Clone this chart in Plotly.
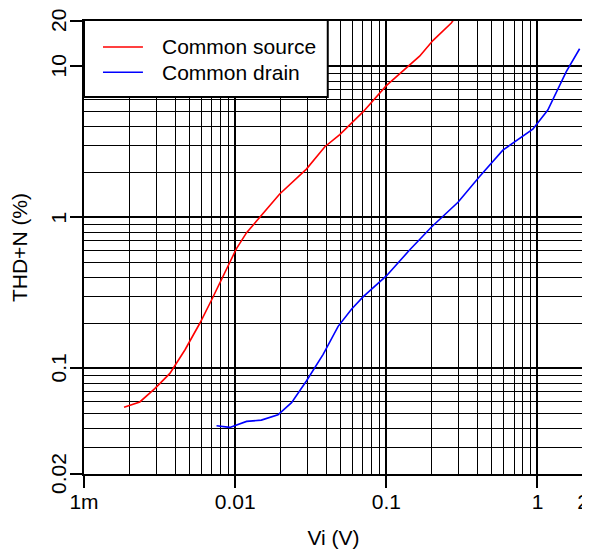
import math
import plotly.graph_objects as go

# Data
cs_vi = [0.00184, 0.00234, 0.00294, 0.0037, 0.00466, 0.00585, 0.00698, 0.0102, 0.0119, 0.0142,
         0.0197, 0.0296, 0.0392, 0.0492, 0.0701, 0.1, 0.136, 0.166, 0.204, 0.269, 0.28]
cs_thd = [0.0554, 0.060, 0.0735, 0.0927, 0.133, 0.2, 0.284, 0.622, 0.793, 0.98,
          1.43, 2.09, 2.94, 3.54, 5.0, 7.46, 9.73, 11.7, 14.9, 19.4, 20.5]

cd_vi = [0.00753, 0.00922, 0.0119, 0.0149, 0.0192, 0.0236, 0.0296, 0.0382, 0.048, 0.0588,
         0.0701, 0.1, 0.143, 0.199, 0.298, 0.414, 0.59, 0.931, 1.17, 1.55, 1.90]
cd_thd = [0.0417, 0.0407, 0.0446, 0.0455, 0.0493, 0.0594, 0.0826, 0.124, 0.19, 0.247,
          0.298, 0.41, 0.611, 0.865, 1.26, 1.87, 2.79, 3.84, 5.14, 9.23, 13.1]

series_names = ["Common source", "Common drain"]
series_colors = ["#ff0000", "#0000ff"]

x_tickvals = [0.001, 0.01, 0.1, 1, 2]
x_ticktext = ["1m", "0.01", "0.1", "1", "2"]
y_tickvals = [0.02, 0.1, 1, 10, 20]
y_ticktext = ["0.02", "0.1", "1", "10", "20"]

x_minor = [m * 10 ** e for e in (-3, -2, -1, 0) for m in range(1, 10) if m * 10 ** e <= 2.0001]
y_minor = [m * 10 ** e for e in (-2, -1, 0, 1) for m in range(1, 10) if 0.0199 <= m * 10 ** e <= 20.001]

FONT = "Liberation Sans, Arial, sans-serif"
FS = 21

fig = go.Figure()
fig.add_trace(go.Scatter(x=cs_vi, y=cs_thd, mode="lines", name=series_names[0],
                         line=dict(color=series_colors[0], width=1.6), showlegend=False))
fig.add_trace(go.Scatter(x=cd_vi, y=cd_thd, mode="lines", name=series_names[1],
                         line=dict(color=series_colors[1], width=1.6), showlegend=False))

# Target plot area in page pixels (the page body adds an 8px offset)
OFF = 8
PL, PR, PT, PB = 84, 583.5, 21, 474.3
PW, PH = PR - PL, PB - PT


def dx(px):
    return (px - PL) / PW


def dy(py):
    return 1 - (py - PT) / PH


shapes = [
    dict(type="rect", xref="x domain", yref="y domain",
         x0=dx(84), x1=dx(328), y0=dy(97), y1=dy(20),
         line=dict(color="black", width=2), fillcolor="white", layer="above"),
]
annotations = []
for i, (nm, col) in enumerate(zip(series_names, series_colors)):
    row_y = 47 + i * 25.3
    shapes.append(dict(type="line", xref="x domain", yref="y domain",
                       x0=dx(103), x1=dx(143), y0=dy(row_y), y1=dy(row_y),
                       line=dict(color=col, width=1.6), layer="above"))
    annotations.append(dict(text=nm, xref="x domain", yref="y domain",
                            x=dx(160), y=dy(row_y), xanchor="left", yanchor="middle",
                            showarrow=False, font=dict(size=FS, color="black")))

# y tick labels, rotated to read upwards
for v, t in zip(y_tickvals, y_ticktext):
    annotations.append(dict(text=t, xref="x domain", yref="y",
                            x=0, y=math.log10(v), xshift=-26, xanchor="center",
                            yanchor="middle", textangle=-90, showarrow=False,
                            font=dict(size=FS, color="black")))

W, H = 590, 551
fig.update_layout(
    width=W, height=H,
    margin=dict(l=PL - OFF, r=W + OFF - PR, t=PT - OFF, b=H + OFF - PB),
    paper_bgcolor="white", plot_bgcolor="white",
    font=dict(family=FONT, size=FS, color="black"),
    showlegend=False,
    shapes=shapes,
    annotations=annotations,
    xaxis=dict(
        type="log", range=[math.log10(0.001) - 1e-6, math.log10(2) + 1e-6],
        automargin=False,
        tickmode="array", tickvals=x_tickvals, ticktext=x_ticktext,
        ticks="outside", ticklen=12, tickwidth=1.5, tickcolor="black",
        ticklabelstandoff=-4,
        showgrid=True, gridcolor="black", gridwidth=1.5,
        showline=True, linecolor="black", linewidth=2, mirror=True,
        zeroline=False,
        minor=dict(tickmode="array", tickvals=x_minor, showgrid=True,
                   gridcolor="black", gridwidth=1, ticks=""),
        title=dict(text="Vi (V)", font=dict(size=FS), standoff=18),
        tickfont=dict(size=FS),
    ),
    yaxis=dict(
        type="log", range=[math.log10(0.02) - 1e-6, math.log10(20) + 1e-6],
        automargin=False,
        tickmode="array", tickvals=y_tickvals, ticktext=y_ticktext,
        showticklabels=False,
        ticks="outside", ticklen=12, tickwidth=1.5, tickcolor="black",
        showgrid=True, gridcolor="black", gridwidth=1.5,
        showline=True, linecolor="black", linewidth=2, mirror=True,
        zeroline=False,
        minor=dict(tickmode="array", tickvals=y_minor, showgrid=True,
                   gridcolor="black", gridwidth=1, ticks=""),
        title=dict(text="THD+N (%)", font=dict(size=FS), standoff=40),
    ),
)

fig.write_html("out.html")
